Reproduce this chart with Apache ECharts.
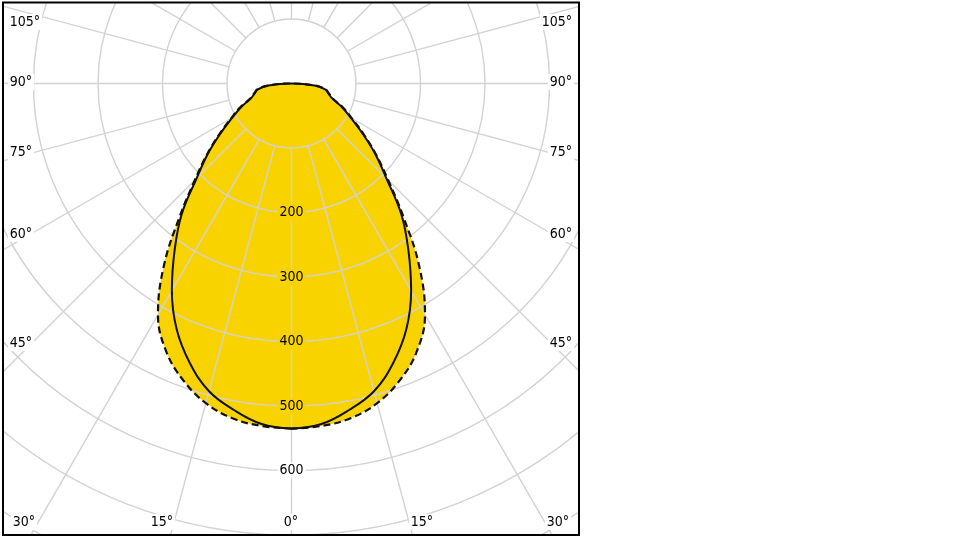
<!DOCTYPE html>
<html><head><meta charset="utf-8">
<script src="https://cdn.jsdelivr.net/npm/echarts@6/dist/echarts.min.js"></script>
<style>html,body{margin:0;padding:0;background:#fff}#c{width:960px;height:540px}</style>
</head><body><div id="c"></div>
<script>
// gamma angles (deg, 0 = straight down) for one half-plane
const gammaAngles = [0,5,10,15,20,25,30,35,40,45,50,55,60,65,70,75,80,85,90,95,100,105,110,115,120,125,130,135,140,145,150,155,160,165,170,175,180];
// solid curve (C0-C180 plane), cd/klm
const solidValues = [535,530,514,494,461,421,371,316,265,208,169,134,106,86,67,59,53,36,0,0,0,0,0,0,0,0,0,0,0,0,0,0,0,0,0,0,0];
// dashed curve (C90-C270 plane)
const dashedValues = [535,533,527,513,490,459,414,345,270,212,171,136,108,88,68,60,54,37,0,0,0,0,0,0,0,0,0,0,0,0,0,0,0,0,0,0,0];
const radialTicks = [200,300,400,500,600];
const angleTickLabels = ['105°','90°','75°','60°','45°','30°','15°','0°','15°','30°','45°','60°','75°','90°','105°'];

const FONT = '"DejaVu Sans Condensed", "DejaVu Sans", sans-serif';
const YELLOW = '#F8D300';
const CENTER = [291.5, 83.5];
const PX_PER_UNIT = 0.645;

// both half-planes (symmetric) -> full 360
function fullCurve(vals) {
  const pts = [];
  for (let i = 0; i < gammaAngles.length; i++) pts.push([vals[i], gammaAngles[i]]);
  for (let i = gammaAngles.length - 2; i >= 0; i--) pts.push([vals[i], 360 - gammaAngles[i]]);
  return pts;
}
const solidData = fullCurve(solidValues);
const dashedData = fullCurve(dashedValues);

// label layout (left column, bottom row, right column)
const angleLabelPos = [
  [25,22],[21,82],[21,152],[21,234],[21,343],[24,522],[162,522],[291,522],[422,522],[558,522],
  [561,343],[561,234],[561,152],[561,82],[557,22]
];

const chart = echarts.init(document.getElementById('c'), null, {renderer: 'canvas'});
const rMax = 900;
const graphics = [
  {type:'rect', shape:{x:580,y:0,width:380,height:540}, style:{fill:'#fff'}, z:100, silent:true},
  {type:'rect', shape:{x:0,y:536,width:960,height:4}, style:{fill:'#fff'}, z:100, silent:true},
  {type:'rect', shape:{x:0,y:0,width:2,height:540}, style:{fill:'#fff'}, z:100, silent:true},
  {type:'rect', shape:{x:0,y:0,width:960,height:2}, style:{fill:'#fff'}, z:100, silent:true},
  {type:'rect', shape:{x:3,y:2.5,width:576,height:532.5}, style:{fill:null, stroke:'#000', lineWidth:2}, z:101, silent:true}
];
angleTickLabels.forEach((t, i) => {
  graphics.push({type:'text', x: angleLabelPos[i][0], y: angleLabelPos[i][1], z:102, silent:true,
    style:{text:t, fill:'#000', font:'14px ' + FONT, align:'center', verticalAlign:'middle',
      backgroundColor:'#fff', padding:[1,2]}});
});

chart.setOption({
  animation: false,
  polar: [
    {center: CENTER, radius: [100*PX_PER_UNIT, rMax*PX_PER_UNIT]},
    {center: CENTER, radius: [0, rMax*PX_PER_UNIT]}
  ],
  angleAxis: [
    {polarIndex:0, type:'value', min:0, max:360, interval:15, startAngle:-90, z:3,
      axisLine:{show:false}, axisTick:{show:false}, axisLabel:{show:false},
      splitLine:{show:true, lineStyle:{color:'#d2d2d2', width:1.4}}},
    {polarIndex:1, type:'value', min:0, max:360, startAngle:-90,
      axisLine:{show:false}, axisTick:{show:false}, axisLabel:{show:false}, splitLine:{show:false}}
  ],
  radiusAxis: [
    {polarIndex:0, type:'value', min:100, max:rMax, interval:100, z:3,
      axisLine:{show:false}, axisTick:{show:false},
      splitLine:{show:true, lineStyle:{color:'#d2d2d2', width:1.4}},
      axisLabel:{show:true, margin:0, rotate:0, align:'center', verticalAlign:'middle',
        formatter: v => radialTicks.indexOf(v) < 0 ? '' : (v >= 600 ? '{w|' + v + '}' : '{y|' + v + '}'),
        rich:{
          y:{backgroundColor:YELLOW, padding:[1,2], fontSize:14, fontFamily:FONT, color:'#000'},
          w:{backgroundColor:'#fff', padding:[1,2], fontSize:14, fontFamily:FONT, color:'#000'}
        }}},
    {polarIndex:1, type:'value', min:0, max:rMax,
      axisLine:{show:false}, axisTick:{show:false}, axisLabel:{show:false}, splitLine:{show:false}}
  ],
  series: [
    {type:'line', coordinateSystem:'polar', polarIndex:1, data:dashedData, symbol:'none', smooth:0.4, clip:false,
      lineStyle:{width:0, opacity:0}, areaStyle:{color:YELLOW, opacity:1}, z:1, silent:true},
    {type:'line', coordinateSystem:'polar', polarIndex:1, data:solidData, symbol:'none', smooth:0.4, clip:false,
      lineStyle:{width:0, opacity:0}, areaStyle:{color:YELLOW, opacity:1}, z:1, silent:true},
    {type:'line', coordinateSystem:'polar', polarIndex:1, data:dashedData, symbol:'none', smooth:0.4, clip:false,
      lineStyle:{color:'#111', width:2.2, type:[7,4]}, z:5, silent:true},
    {type:'line', coordinateSystem:'polar', polarIndex:1, data:solidData, symbol:'none', smooth:0.4, clip:false,
      lineStyle:{color:'#111', width:2}, z:6, silent:true}
  ],
  graphic: graphics
});
</script>
</body></html>
